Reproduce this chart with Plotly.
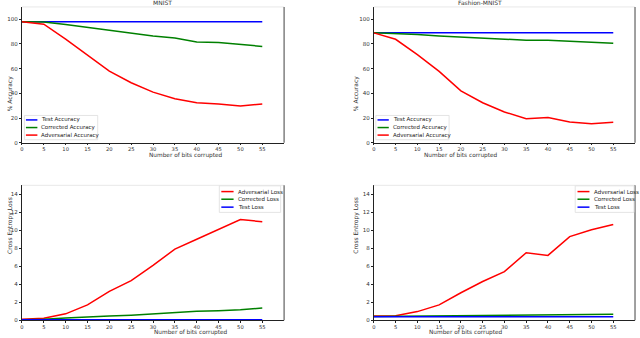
import plotly.graph_objects as go

bits = [0, 5, 10, 15, 20, 25, 30, 35, 40, 45, 50, 55]

mnist_test_acc = [98] * 12
mnist_corr_acc = [98, 97.8, 95.7, 93.5, 91, 88.5, 86.5, 84.9, 81.6, 81.2, 79.6, 78]
mnist_adv_acc = [98, 96, 84, 71, 58, 48.6, 41, 35.7, 32.4, 31.4, 29.7, 31.4]

fash_test_acc = [89] * 12
fash_corr_acc = [89, 88.5, 87.6, 86.5, 85.6, 85, 83.5, 83, 83, 82, 81.4, 80.5]
fash_adv_acc = [89, 83.8, 71.4, 57.8, 42, 32.4, 24.9, 19.5, 20.5, 16.8, 15.4, 16.5]

mnist_adv_loss = [0.1, 0.2, 0.7, 1.7, 3.2, 4.4, 6.1, 7.9, 9.0, 10.1, 11.2, 10.95]
mnist_corr_loss = [0.05, 0.1, 0.25, 0.32, 0.45, 0.55, 0.7, 0.8, 1.0, 1.05, 1.15, 1.35]
mnist_test_loss = [0.05] * 12

fash_adv_loss = [0.45, 0.5, 0.95, 1.7, 3.05, 4.3, 5.4, 7.5, 7.2, 9.3, 10.05, 10.65]
fash_corr_loss = [0.4, 0.42, 0.44, 0.45, 0.46, 0.47, 0.55, 0.55, 0.55, 0.6, 0.65, 0.66]
fash_test_loss = [0.38] * 12

acc_ticks = [0, 20, 40, 60, 80, 100]
loss_ticks = [0, 2, 4, 6, 8, 10, 12, 14]
x_ticks = bits

W, H = 640, 338
FONT = "DejaVu Sans"
TXT = "#333333"
BLUE, GREEN, RED = "#0000ff", "#008000", "#ff0000"


def px(x):
    return x / W


def py(y):
    return 1 - y / H


fig = go.Figure()

panels = [
    dict(xa="x", ya="y", xr=(20, 283), yr=(7, 144), acc=True, title="MNIST",
         series=[("Test Accuracy", mnist_test_acc, BLUE), ("Corrected Accuracy", mnist_corr_acc, GREEN),
                 ("Adversarial Accuracy", mnist_adv_acc, RED)],
         leg_box=(22.5, 116.5, 96, 141), leg_rows=(121, 128.7, 136.3), leg_line=(24, 35.5), leg_text=38.5),
    dict(xa="x2", ya="y2", xr=(373, 635), yr=(7, 144), acc=True, title="Fashion-MNIST",
         series=[("Test Accuracy", fash_test_acc, BLUE), ("Corrected Accuracy", fash_corr_acc, GREEN),
                 ("Adversarial Accuracy", fash_adv_acc, RED)],
         leg_box=(375, 116.5, 448.5, 141), leg_rows=(121, 128.7, 136.3), leg_line=(376.7, 388), leg_text=391.5),
    dict(xa="x3", ya="y3", xr=(20, 283), yr=(187, 323), acc=False, title=None,
         series=[("Adversarial Loss", mnist_adv_loss, RED), ("Corrected Loss", mnist_corr_loss, GREEN),
                 ("Test Loss", mnist_test_loss, BLUE)],
         leg_box=(218, 187.5, 279.5, 214.3), leg_rows=(193.3, 201, 209), leg_line=(220, 232.3), leg_text=235.3),
    dict(xa="x4", ya="y4", xr=(373, 635), yr=(187, 323), acc=False, title=None,
         series=[("Adversarial Loss", fash_adv_loss, RED), ("Corrected Loss", fash_corr_loss, GREEN),
                 ("Test Loss", fash_test_loss, BLUE)],
         leg_box=(575, 187.5, 634, 214.3), leg_rows=(193.3, 201, 209), leg_line=(577.3, 589.3), leg_text=592.7),
]

layout = dict(
    width=W, height=H, margin=dict(l=0, r=0, t=0, b=0),
    paper_bgcolor="white", plot_bgcolor="white",
    font=dict(family=FONT, size=6, color=TXT),
    showlegend=False,
)

shapes = []
annotations = []

for p in panels:
    xa, ya = p["xa"], p["ya"]
    x0, x1 = p["xr"]
    y0, y1 = p["yr"]
    for name, vals, col in p["series"]:
        fig.add_trace(go.Scatter(x=bits, y=vals, mode="lines", name=name,
                                 line=dict(color=col, width=1.5),
                                 xaxis=xa, yaxis=ya))
    xkey = "xaxis" if xa == "x" else "xaxis" + xa[1:]
    ykey = "yaxis" if ya == "y" else "yaxis" + ya[1:]
    acc = p["acc"]
    layout[xkey] = dict(domain=[px(x0), px(x1)], range=[0, 60], tickvals=x_ticks,
                        anchor=ya, showgrid=False, zeroline=False,
                        showline=True, linecolor="#222222", linewidth=1,
                        ticks="outside", ticklen=1.5, tickcolor="#222222",
                        tickfont=dict(size=5.2, color=TXT))
    layout[ykey] = dict(domain=[py(y1), py(y0)],
                        range=[0, 110] if acc else [0, 15],
                        tickvals=acc_ticks if acc else loss_ticks,
                        anchor=xa, showgrid=False, zeroline=False,
                        showline=True, linecolor="#222222", linewidth=1,
                        ticks="outside", ticklen=2, tickcolor="#222222",
                        tickfont=dict(size=5.5, color=TXT))
    # top and right spines
    shapes.append(dict(type="line", xref="paper", yref="paper",
                       x0=px(x0), x1=px(x1), y0=py(y0), y1=py(y0),
                       line=dict(color="#e8e8e8", width=1)))
    shapes.append(dict(type="line", xref="paper", yref="paper",
                       x0=px(x1), x1=px(x1), y0=py(y0), y1=py(y1),
                       line=dict(color="#808080", width=1.5)))
    # axis titles
    annotations.append(dict(text="Number of bits corrupted", xref="paper", yref="paper",
                            x=px((x0 + x1) / 2 - 5 if acc else (x0 + x1) / 2),
                            y=py(156.5 if acc else 335.6), showarrow=False, borderpad=0,
                            font=dict(size=5.8, color=TXT), yanchor="middle"))
    annotations.append(dict(text="% Accuracy" if acc else "Cross Entropy Loss",
                            xref="paper", yref="paper", textangle=-90, borderpad=0,
                            x=px(x0 - 17 if x0 < 100 else x0 - 18),
                            y=py(75.5 if acc else 256.7), showarrow=False,
                            font=dict(size=6, color=TXT)))
    if p["title"]:
        annotations.append(dict(text=p["title"], xref="paper", yref="paper",
                                x=px((x0 + x1) / 2 - 1), y=py(3), showarrow=False,
                                borderpad=0, font=dict(size=6, color=TXT), yanchor="middle"))
    # legend (drawn manually for compact spacing)
    bx0, by0, bx1, by1 = p["leg_box"]
    shapes.append(dict(type="rect", xref="paper", yref="paper",
                       x0=px(bx0), x1=px(bx1), y0=py(by1), y1=py(by0),
                       fillcolor="rgba(255,255,255,0.85)",
                       line=dict(color="#dddddd", width=0.8)))
    lx0, lx1 = p["leg_line"]
    for (name, _vals, col), ry in zip(p["series"], p["leg_rows"]):
        shapes.append(dict(type="line", xref="paper", yref="paper",
                           x0=px(lx0), x1=px(lx1), y0=py(ry), y1=py(ry),
                           line=dict(color=col, width=1.5)))
        annotations.append(dict(text=name, xref="paper", yref="paper",
                                x=px(p["leg_text"]), y=py(ry), xanchor="left",
                                yanchor="middle", showarrow=False, borderpad=0,
                                font=dict(size=5.5, color="#222222")))

layout["shapes"] = shapes
layout["annotations"] = annotations
fig.update_layout(**layout)

fig.write_html("out.html", config={"displayModeBar": False},
               post_script="document.body.style.margin='0';document.body.style.overflow='hidden';")
